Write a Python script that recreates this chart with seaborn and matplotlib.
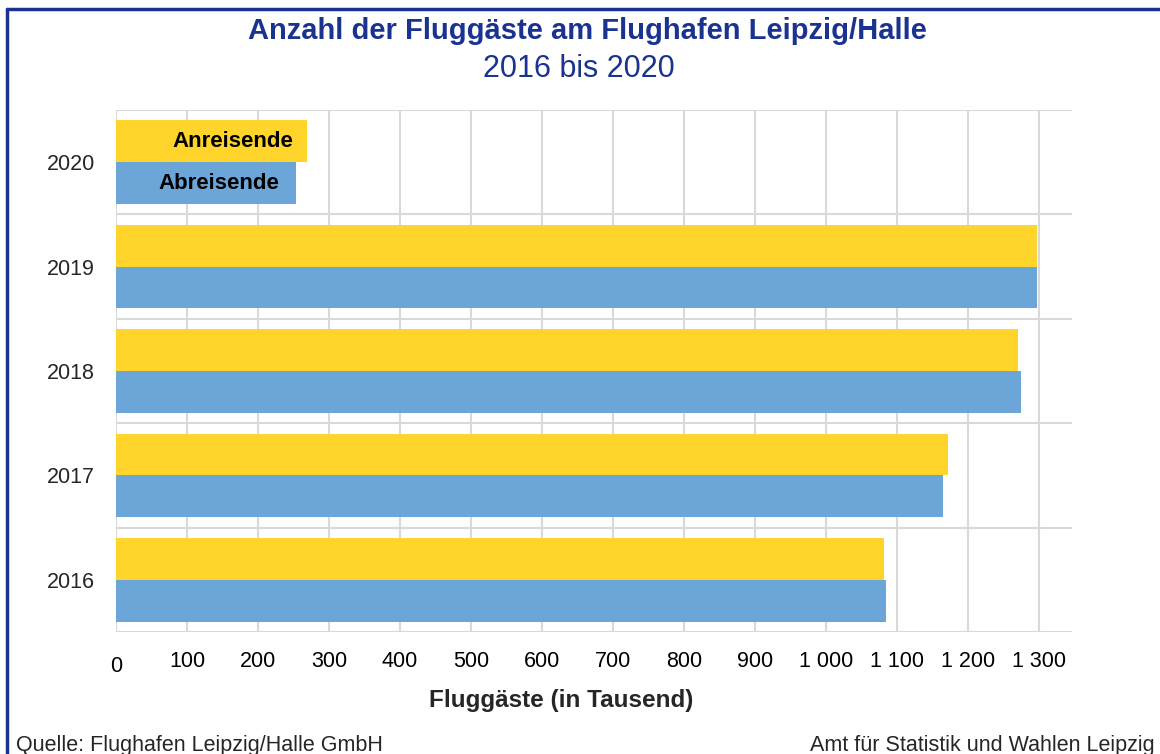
import numpy as np
import pandas as pd
import matplotlib
matplotlib.use('Agg')
import matplotlib.pyplot as plt
import matplotlib.transforms as mtransforms
from matplotlib.lines import Line2D
import seaborn as sns

jahre = ['2020', '2019', '2018', '2017', '2016']
anreisende = [269, 1297, 1270, 1172, 1082]
abreisende = [254, 1297, 1274, 1165, 1084]
serien = ['Anreisende', 'Abreisende']
farben = ['#FFD52B', '#6CA6D9']
x_ticks = [0, 100, 200, 300, 400, 500, 600, 700, 800, 900, 1000, 1100, 1200, 1300]

sns.set_style('white')
plt.rcParams['font.family'] = ['Liberation Sans', 'DejaVu Sans']

df = pd.DataFrame({
    'Jahr': jahre * 2,
    'Wert': anreisende + abreisende,
    'Serie': [serien[0]] * len(jahre) + [serien[1]] * len(jahre),
})

blau = '#1B3390'
grau = '#D9D9D9'

fig = plt.figure(figsize=(11.6, 7.54), dpi=100)
ax = fig.add_axes([116 / 1160, 1 - 632 / 754, (1072 - 116) / 1160, (632 - 110) / 754])

sns.barplot(data=df, x='Wert', y='Jahr', hue='Serie', order=jahre, hue_order=serien,
            palette=farben, orient='h', width=0.8, linewidth=0, saturation=1, ax=ax,
            legend=False)

ax.set_xlim(0, 1346)
ax.set_ylim(4.5, -0.5)
ax.set_xticks(x_ticks)
ax.set_xticklabels([f'{v:,}'.replace(',', ' ') for v in x_ticks])
ax.set_yticks(np.arange(len(jahre)))
ax.set_yticklabels(jahre)
ax.set_yticks(np.arange(-0.5, len(jahre)), minor=True)
ax.set_axisbelow(True)
ax.grid(axis='x', which='major', color=grau, linewidth=1.5)
ax.grid(axis='y', which='minor', color=grau, linewidth=1.5)
ax.grid(axis='y', which='major', visible=False)
for s in ax.spines.values():
    s.set_visible(False)
ax.tick_params(axis='x', which='major', length=5, width=1.5, color=grau,
               labelsize=15.5, pad=9, labelcolor='#000000')
ax.tick_params(axis='y', which='both', length=0, labelsize=15.5, pad=15)
ax.set_xlabel('')
ax.set_ylabel('')

# "0" sitzt etwas tiefer als die anderen Beschriftungen
lbl0 = ax.get_xticklabels()[0]
lbl0.set_transform(lbl0.get_transform() +
                   mtransforms.ScaledTranslation(0, -5 / 100, fig.dpi_scale_trans))

# Seriennamen in den 2020er Balken
ax.text(anreisende[0] - 20, -0.2, serien[0], ha='right', va='center',
        fontsize=16, fontweight='bold', color='black')
ax.text(abreisende[0] - 24, 0.2, serien[1], ha='right', va='center',
        fontsize=16, fontweight='bold', color='black')

fig.text(587 / 1160, 1 - 31 / 754, 'Anzahl der Fluggäste am Flughafen Leipzig/Halle',
         ha='center', va='center', fontsize=21, fontweight='bold', color=blau)
fig.text(579 / 1160, 1 - 69 / 754, '2016 bis 2020', ha='center', va='center',
         fontsize=22, color=blau)
fig.text(561 / 1160, 1 - 700 / 754, 'Fluggäste (in Tausend)', ha='center', va='center',
         fontsize=17.5, fontweight='bold')
fig.text(16 / 1160, 1 - 745 / 754, 'Quelle: Flughafen Leipzig/Halle GmbH',
         ha='left', va='center', fontsize=15.5)
fig.text(1155 / 1160, 1 - 745 / 754, 'Amt für Statistik und Wahlen Leipzig',
         ha='right', va='center', fontsize=15.5)

# Rahmen links und oben
fig.add_artist(Line2D([7 / 1160, 7 / 1160], [0, 1 - 9 / 754], color=blau, linewidth=2.5,
                      transform=fig.transFigure))
fig.add_artist(Line2D([7 / 1160, 1], [1 - 9 / 754, 1 - 9 / 754], color=blau, linewidth=2.5,
                      transform=fig.transFigure))

fig.savefig('out.png', dpi=100)
